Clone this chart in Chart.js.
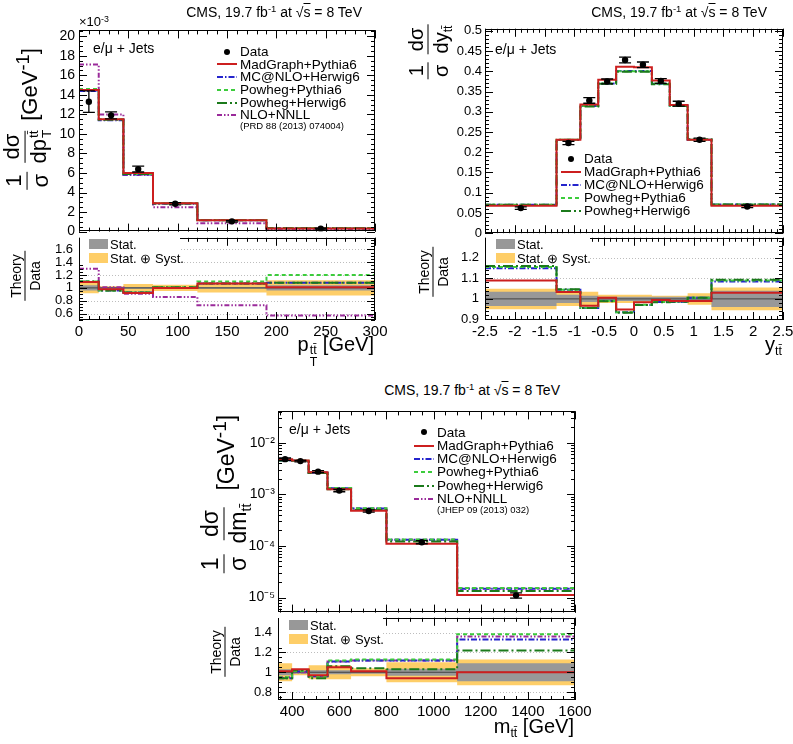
<!DOCTYPE html>
<html>
<head>
<meta charset="utf-8">
<script src="https://cdn.jsdelivr.net/npm/chart.js@4.4.0/dist/chart.umd.min.js"></script>
<style>
  body { margin: 0; background: #fff; width: 793px; height: 744px; position: relative; overflow: hidden;
         font-family: 'Liberation Sans', Arial, Helvetica, sans-serif; color: #000; }
  canvas { position: absolute; }
  .t { position: absolute; white-space: nowrap; z-index: 5; line-height: 1; }
  .t sup { font-size: 0.68em; vertical-align: 0.5em; line-height: 0; }
  .ov { text-decoration: overline; }
  .rot { position: absolute; z-index: 5; white-space: nowrap; display: flex; align-items: center;
         transform: translate(-50%, -50%) rotate(-90deg); line-height: 1; }
  .fr { display: inline-flex; flex-direction: column; align-items: center; margin: 0 4px; }
  .fr .num { border-bottom: 1.6px solid #000; padding: 0 3px 2px; }
  .fr .den { padding-top: 2px; }
  .ss { display: inline-flex; flex-direction: column; font-size: 0.62em; line-height: 0.95; vertical-align: middle; margin-left: 1px; }
  .sub { font-size: 0.62em; position: relative; top: 0.35em; }
  .row { position: absolute; z-index: 5; display: flex; align-items: center; white-space: nowrap; line-height: 1; }
  .box { position: absolute; z-index: 5; }
</style>
</head>
<body>
<script>
// ---------- ttbar pT ----------
const ptEdges = [0, 20, 45, 75, 120, 190, 300];
const ptData = [13.3, 11.9, 6.4, 2.85, 1.05, 0.30];
const ptDataErr = [1.1, 0.35, 0.3, 0.12, 0.08, 0.05];
const ptMadGraph = [14.5, 11.5, 6.0, 2.9, 1.15, 0.33];
const ptMcatnlo = [14.4, 11.4, 5.85, 2.85, 1.15, 0.34];
const ptPowhegPythia = [14.6, 11.5, 5.9, 2.9, 1.18, 0.37];
const ptPowhegHerwig = [14.5, 11.45, 5.9, 2.88, 1.15, 0.34];
const ptNloNnll = [17.1, 12.0, 5.8, 2.5, 0.85, 0.19];
const ptRatioMadGraph = [1.09, 0.98, 0.92, 1.0, 1.07, 1.01];
const ptRatioMcatnlo = [1.09, 0.96, 0.93, 1.0, 1.07, 1.08];
const ptRatioPowhegPythia = [1.10, 0.96, 0.93, 1.01, 1.10, 1.20];
const ptRatioPowhegHerwig = [1.10, 0.96, 0.93, 1.01, 1.07, 1.08];
const ptRatioNloNnll = [1.30, 1.01, 0.91, 0.86, 0.73, 0.57];
const ptStat = [0.04, 0.015, 0.015, 0.01, 0.015, 0.04];
const ptTotal = [0.085, 0.025, 0.06, 0.05, 0.07, 0.12];

// ---------- ttbar rapidity ----------
const yEdges = [-2.5, -1.3, -0.9, -0.6, -0.3, 0, 0.3, 0.6, 0.9, 1.3, 2.5];
const yData = [0.062, 0.223, 0.328, 0.375, 0.428, 0.416, 0.376, 0.320, 0.231, 0.066];
const yDataErr = [0.003, 0.004, 0.007, 0.006, 0.007, 0.007, 0.006, 0.006, 0.004, 0.003];
const yMadGraph = [0.068, 0.231, 0.318, 0.379, 0.411, 0.410, 0.377, 0.317, 0.231, 0.068];
const yMcatnlo = [0.070, 0.230, 0.314, 0.370, 0.401, 0.401, 0.369, 0.315, 0.231, 0.071];
const yPowhegPythia = [0.070, 0.231, 0.314, 0.370, 0.400, 0.400, 0.370, 0.315, 0.231, 0.071];
const yPowhegHerwig = [0.070, 0.231, 0.313, 0.369, 0.399, 0.399, 0.368, 0.314, 0.232, 0.071];
const yRatioMadGraph = [1.09, 1.033, 0.967, 1.005, 0.948, 0.983, 0.995, 0.99, 0.99, 1.03];
const yRatioMcatnlo = [1.15, 1.045, 0.955, 0.99, 0.935, 0.97, 0.985, 0.985, 1.005, 1.085];
const yRatioPowhegPythia = [1.155, 1.045, 0.957, 0.99, 0.935, 0.972, 0.985, 0.987, 1.006, 1.09];
const yRatioPowhegHerwig = [1.16, 1.047, 0.955, 0.988, 0.932, 0.97, 0.984, 0.986, 1.006, 1.093];
const yStat = [0.035, 0.02, 0.015, 0.01, 0.01, 0.01, 0.01, 0.01, 0.012, 0.04];
const yTotal = [0.05, 0.035, 0.035, 0.02, 0.02, 0.02, 0.015, 0.015, 0.028, 0.055];

// ---------- ttbar mass ----------
const mEdges = [340, 400, 470, 550, 650, 800, 1100, 1600];
const mData = [4.8e-3, 4.4e-3, 2.75e-3, 1.18e-3, 4.75e-4, 1.18e-4, 1.1e-5];
const mDataErr = [0.25e-3, 0.15e-3, 0.12e-3, 0.06e-3, 0.25e-4, 0.08e-4, 0.13e-5];
const mMadGraph = [4.8e-3, 4.5e-3, 2.67e-3, 1.25e-3, 4.8e-4, 1.1e-4, 1.12e-5];
const mMcatnlo = [4.5e-3, 4.45e-3, 2.63e-3, 1.31e-3, 5.3e-4, 1.32e-4, 1.47e-5];
const mPowhegPythia = [4.55e-3, 4.45e-3, 2.65e-3, 1.32e-3, 5.35e-4, 1.33e-4, 1.52e-5];
const mPowhegHerwig = [4.5e-3, 4.5e-3, 2.6e-3, 1.25e-3, 4.95e-4, 1.22e-4, 1.34e-5];
const mNloNnll = [4.55e-3, 4.4e-3, 2.65e-3, 1.31e-3, 5.3e-4, 1.32e-4, 1.5e-5];
const mRatioMadGraph = [1.01, 1.03, 0.97, 1.05, 1.01, 0.94, 1.0];
const mRatioMcatnlo = [0.94, 1.01, 0.96, 1.11, 1.12, 1.12, 1.33];
const mRatioPowhegPythia = [0.95, 1.01, 0.96, 1.12, 1.13, 1.13, 1.385];
const mRatioPowhegHerwig = [0.94, 1.02, 0.94, 1.06, 1.04, 1.03, 1.22];
const mRatioNloNnll = [0.95, 1.0, 0.96, 1.11, 1.12, 1.12, 1.36];
const mStat = [0.03, 0.015, 0.02, 0.02, 0.015, 0.035, 0.09];
const mTotal = [0.09, 0.03, 0.07, 0.07, 0.04, 0.1, 0.13];

const STYLES = {
  madgraph: { label: 'MadGraph+Pythia6', color: '#cc1f1f', dash: [], order: 1 },
  mcatnlo:  { label: 'MC@NLO+Herwig6', color: '#2424cc', dash: [6, 2, 1.5, 2], order: 4 },
  powpy:    { label: 'Powheg+Pythia6', color: '#3ccc3c', dash: [4, 3], order: 3 },
  powhw:    { label: 'Powheg+Herwig6', color: '#1b7a1b', dash: [10, 3, 2, 3], order: 2 },
  nnll:     { label: 'NLO+NNLL', color: '#9a2a9a', dash: [5, 2, 1.5, 2, 1.5, 2], order: 5 }
};
const ORANGE = 'rgb(254, 206, 104)';
const GREY = 'rgb(152, 152, 152)';
const FONT = "'Liberation Sans', Arial, sans-serif";

function steps(edges, vals) {
  return edges.map((e, i) => ({ x: e, y: vals[Math.min(i, vals.length - 1)] }));
}
function centers(edges) {
  return edges.slice(0, -1).map((e, i) => (e + edges[i + 1]) / 2);
}
function seq(a, b, s) {
  const out = [];
  for (let v = a; v <= b + s * 1e-6; v += s) out.push(+v.toFixed(6));
  return out;
}
function histDs(key, edges, vals) {
  const s = STYLES[key];
  return { label: s.label, data: steps(edges, vals), stepped: true, borderColor: s.color,
           borderWidth: 2, borderDash: s.dash, pointRadius: 0, fill: false, order: s.order };
}
function bandDs(edges, half, color, order) {
  return [
    { data: steps(edges, half.map(h => 1 - h)), stepped: true, borderWidth: 0, pointRadius: 0, fill: false, order: order },
    { data: steps(edges, half.map(h => 1 + h)), stepped: true, borderWidth: 0, pointRadius: 0, fill: '-1',
      backgroundColor: color, order: order }
  ];
}
function dataDs(edges, vals) {
  const xs = centers(edges);
  return { data: xs.map((x, i) => ({ x: x, y: vals[i] })), showLine: false, pointRadius: 3.2,
           pointBackgroundColor: '#000', pointBorderWidth: 0, order: 0 };
}
function unityDs(lo, hi) {
  return { data: [{ x: lo, y: 1 }, { x: hi, y: 1 }], borderColor: '#444', borderWidth: 1, pointRadius: 0, order: 6 };
}
function fmt(v) { return String(+Number(v).toFixed(4)); }
const SUP = { '-': '\u207b', '0': '\u2070', '1': '\u00b9', '2': '\u00b2', '3': '\u00b3', '4': '\u2074',
              '5': '\u2075', '6': '\u2076', '7': '\u2077', '8': '\u2078', '9': '\u2079' };
function fmtLog(v) {
  const e = Math.log10(v);
  if (Math.abs(e - Math.round(e)) > 1e-6) return '';
  return '10' + String(Math.round(e)).split('').map(c => SUP[c]).join('');
}

// ROOT-like frame with inward ticks on all four sides
const rootFrame = {
  id: 'rootFrame',
  beforeDatasetsDraw(chart, args, o) {
    if (!o || !o.grid) return;
    const { ctx, chartArea: a, scales: { y } } = chart;
    ctx.save();
    ctx.strokeStyle = '#bdbdbd'; ctx.lineWidth = 1; ctx.setLineDash([1, 2]);
    o.yMajor.forEach(v => {
      const p = Math.round(y.getPixelForValue(v)) + 0.5;
      ctx.beginPath(); ctx.moveTo(a.left, p); ctx.lineTo(a.right, p); ctx.stroke();
    });
    ctx.restore();
  },
  afterDatasetsDraw(chart, args, o) {
    if (!o || !o.xMajor) return;
    const { ctx, chartArea: a, scales: { x, y } } = chart;
    ctx.save();
    ctx.strokeStyle = '#000'; ctx.lineWidth = 1; ctx.setLineDash([]);
    ctx.beginPath();
    const xt = (list, len) => list.forEach(v => {
      const p = Math.round(x.getPixelForValue(v)) + 0.5;
      ctx.moveTo(p, a.bottom); ctx.lineTo(p, a.bottom - len);
      ctx.moveTo(p, a.top); ctx.lineTo(p, a.top + len);
    });
    const yt = (list, len) => list.forEach(v => {
      const p = Math.round(y.getPixelForValue(v)) + 0.5;
      ctx.moveTo(a.left, p); ctx.lineTo(a.left + len, p);
      ctx.moveTo(a.right, p); ctx.lineTo(a.right - len, p);
    });
    xt(o.xMajor, 8); xt(o.xMinor, 4);
    yt(o.yMajor, 8); yt(o.yMinor, 4);
    ctx.stroke();
    ctx.strokeRect(Math.round(a.left) + 0.5, Math.round(a.top) + 0.5, Math.round(a.width) - 1, Math.round(a.height) - 1);
    ctx.restore();
  }
};

const errBars = {
  id: 'errBars',
  afterDatasetsDraw(chart, args, o) {
    if (!o || !o.ys) return;
    const { ctx, scales: { x, y } } = chart;
    const xs = centers(o.edges);
    ctx.save();
    ctx.strokeStyle = '#000'; ctx.lineWidth = 1.3;
    xs.forEach((xv, i) => {
      const px = x.getPixelForValue(xv);
      const lo = y.getPixelForValue(o.ys[i] - o.err[i]);
      const hi = y.getPixelForValue(o.ys[i] + o.err[i]);
      ctx.beginPath();
      ctx.moveTo(px, lo); ctx.lineTo(px, hi);
      ctx.moveTo(px - 6, lo); ctx.lineTo(px + 6, lo);
      ctx.moveTo(px - 6, hi); ctx.lineTo(px + 6, hi);
      ctx.stroke();
    });
    ctx.restore();
  }
};

function makeChart(frame, cfg) {
  const ML = 60, MT = 10, MR = 24;
  const MB = cfg.showX ? 40 : 0;
  const PB = cfg.showX ? 0 : 10;
  const W = frame.r - frame.l + ML + MR;
  const H = frame.b - frame.t + MT + MB + PB;
  const cv = document.createElement('canvas');
  cv.width = W; cv.height = H;
  cv.style.left = (frame.l - ML) + 'px';
  cv.style.top = (frame.t - MT) + 'px';
  cv.style.width = W + 'px'; cv.style.height = H + 'px';
  document.body.appendChild(cv);
  return new Chart(cv.getContext('2d'), {
    type: 'line',
    data: { datasets: cfg.datasets },
    options: {
      responsive: false, animation: false, devicePixelRatio: 1,
      layout: { padding: { left: 0, top: MT, right: MR, bottom: PB } },
      elements: { line: { tension: 0 } },
      plugins: { legend: { display: false }, tooltip: { enabled: false },
                 rootFrame: cfg.ticks, errBars: cfg.err || {} },
      scales: {
        x: {
          type: 'linear', min: cfg.xr[0], max: cfg.xr[1],
          afterFit: s => { s.height = MB; },
          grid: { display: false, drawTicks: false }, border: { display: false },
          ticks: { display: !!cfg.showX, stepSize: cfg.xStep, includeBounds: false, autoSkip: false,
                   maxRotation: 0, maxTicksLimit: 40, padding: 3, color: '#000',
                   font: { family: FONT, size: 15 }, callback: fmt }
        },
        y: {
          type: cfg.log ? 'logarithmic' : 'linear', min: cfg.yr[0], max: cfg.yr[1],
          afterFit: s => { s.width = ML; },
          grid: { display: false, drawTicks: false }, border: { display: false },
          ticks: { stepSize: cfg.yStep, includeBounds: false, autoSkip: false, maxTicksLimit: 40,
                   padding: cfg.yPad || 4, color: '#000', font: { family: FONT, size: cfg.yFont || 14 },
                   callback: cfg.log ? fmtLog : fmt }
        }
      }
    },
    plugins: [rootFrame, errBars]
  });
}

function logMinors(lo, hi) {
  const out = [];
  for (let e = -7; e <= 0; e++) for (let k = 1; k <= 9; k++) {
    const v = k * Math.pow(10, e);
    if (v >= lo && v <= hi) out.push(v);
  }
  return out;
}

// ---------------- pT panel ----------------
const ptFrameMain = { l: 79, r: 375, t: 28, b: 234 };
const ptFrameRatio = { l: 79, r: 375, t: 234, b: 320 };
makeChart(ptFrameMain, {
  xr: [0, 300], yr: [0, 20.6], yStep: 2,
  ticks: { xMajor: seq(0, 300, 50), xMinor: seq(0, 300, 10), yMajor: seq(0, 20, 2), yMinor: seq(0, 20.5, 0.5) },
  err: { edges: ptEdges, ys: ptData, err: ptDataErr },
  datasets: [dataDs(ptEdges, ptData), histDs('madgraph', ptEdges, ptMadGraph), histDs('mcatnlo', ptEdges, ptMcatnlo),
             histDs('powpy', ptEdges, ptPowhegPythia), histDs('powhw', ptEdges, ptPowhegHerwig),
             histDs('nnll', ptEdges, ptNloNnll)]
});
makeChart(ptFrameRatio, {
  showX: true, xr: [0, 300], xStep: 50, yr: [0.5, 1.78], yStep: 0.2, yFont: 13, yPad: 6,
  ticks: { grid: true, xMajor: seq(0, 300, 50), xMinor: seq(0, 300, 10), yMajor: seq(0.6, 1.6, 0.2), yMinor: seq(0.5, 1.75, 0.05) },
  datasets: [...bandDs(ptEdges, ptTotal, ORANGE, 8), ...bandDs(ptEdges, ptStat, GREY, 7), unityDs(0, 300),
             histDs('madgraph', ptEdges, ptRatioMadGraph), histDs('mcatnlo', ptEdges, ptRatioMcatnlo),
             histDs('powpy', ptEdges, ptRatioPowhegPythia), histDs('powhw', ptEdges, ptRatioPowhegHerwig),
             histDs('nnll', ptEdges, ptRatioNloNnll)]
});

// ---------------- rapidity panel ----------------
const yFrameMain = { l: 485, r: 783, t: 28, b: 234 };
const yFrameRatio = { l: 485, r: 783, t: 234, b: 320 };
makeChart(yFrameMain, {
  xr: [-2.5, 2.5], yr: [0, 0.505], yStep: 0.05, yFont: 13, yPad: 3,
  ticks: { xMajor: seq(-2.5, 2.5, 0.5), xMinor: seq(-2.5, 2.5, 0.1), yMajor: seq(0, 0.5, 0.05), yMinor: seq(0, 0.5, 0.01) },
  err: { edges: yEdges, ys: yData, err: yDataErr },
  datasets: [dataDs(yEdges, yData), histDs('madgraph', yEdges, yMadGraph), histDs('mcatnlo', yEdges, yMcatnlo),
             histDs('powpy', yEdges, yPowhegPythia), histDs('powhw', yEdges, yPowhegHerwig)]
});
makeChart(yFrameRatio, {
  showX: true, xr: [-2.5, 2.5], xStep: 0.5, yr: [0.897, 1.298], yStep: 0.1, yFont: 13, yPad: 6,
  ticks: { grid: true, xMajor: seq(-2.5, 2.5, 0.5), xMinor: seq(-2.5, 2.5, 0.1), yMajor: seq(0.9, 1.2, 0.1), yMinor: seq(0.9, 1.28, 0.02) },
  datasets: [...bandDs(yEdges, yTotal, ORANGE, 8), ...bandDs(yEdges, yStat, GREY, 7), unityDs(-2.5, 2.5),
             histDs('madgraph', yEdges, yRatioMadGraph), histDs('mcatnlo', yEdges, yRatioMcatnlo),
             histDs('powpy', yEdges, yRatioPowhegPythia), histDs('powhw', yEdges, yRatioPowhegHerwig)]
});

// ---------------- mass panel ----------------
const mFrameMain = { l: 278, r: 575, t: 410, b: 614 };
const mFrameRatio = { l: 278, r: 575, t: 614, b: 700 };
makeChart(mFrameMain, {
  log: true, xr: [340, 1600], yr: [5.1e-6, 0.0404], yFont: 14, yPad: 3,
  ticks: { xMajor: seq(400, 1600, 200), xMinor: seq(350, 1600, 50), yMajor: [1e-5, 1e-4, 1e-3, 1e-2], yMinor: logMinors(5.1e-6, 0.0404) },
  err: { edges: mEdges, ys: mData, err: mDataErr },
  datasets: [dataDs(mEdges, mData), histDs('madgraph', mEdges, mMadGraph), histDs('mcatnlo', mEdges, mMcatnlo),
             histDs('powpy', mEdges, mPowhegPythia), histDs('powhw', mEdges, mPowhegHerwig),
             histDs('nnll', mEdges, mNloNnll)]
});
makeChart(mFrameRatio, {
  showX: true, xr: [340, 1600], xStep: 200, yr: [0.72, 1.55], yStep: 0.2, yFont: 13, yPad: 6,
  ticks: { grid: true, xMajor: seq(400, 1600, 200), xMinor: seq(350, 1600, 50), yMajor: seq(0.8, 1.4, 0.2), yMinor: seq(0.75, 1.55, 0.05) },
  datasets: [...bandDs(mEdges, mTotal, ORANGE, 8), ...bandDs(mEdges, mStat, GREY, 7), unityDs(340, 1600),
             histDs('madgraph', mEdges, mRatioMadGraph), histDs('mcatnlo', mEdges, mRatioMcatnlo),
             histDs('powpy', mEdges, mRatioPowhegPythia), histDs('powhw', mEdges, mRatioPowhegHerwig),
             histDs('nnll', mEdges, mRatioNloNnll)]
});

// ---------------- text, titles, legends ----------------
function addHtml(html) {
  const d = document.createElement('div');
  d.innerHTML = html;
  while (d.firstChild) document.body.appendChild(d.firstChild);
}
function sample(key) {
  if (key === 'data') return '<svg width="20" height="8"><circle cx="10" cy="4" r="3" fill="#000"/></svg>';
  const s = STYLES[key];
  return '<svg width="20" height="8"><line x1="0" y1="4" x2="20" y2="4" stroke="' + s.color +
         '" stroke-width="2" stroke-dasharray="' + (s.dash.length ? s.dash.join(',') : 'none') + '"/></svg>';
}
function legend(x, y0, dy, keys, note) {
  let html = '';
  keys.forEach((k, i) => {
    const lab = k === 'data' ? 'Data' : STYLES[k].label;
    html += '<div class="row" style="left:' + x + 'px;top:' + (y0 + i * dy - 8) + 'px;height:16px;font-size:13.5px">' +
            sample(k) + '<span style="margin-left:3px">' + lab + '</span></div>';
  });
  if (note) html += '<div class="t" style="left:' + (x + 23) + 'px;top:' + (y0 + keys.length * dy - 7) + 'px;font-size:9.5px">' + note + '</div>';
  addHtml(html);
}
function ratioLegend(fx, x, y0, w) {
  const cover = '<div class="box" style="left:' + (fx + 1) + 'px;top:' + (y0 - 4) + 'px;width:' + w +
                'px;height:29px;background:#fff;z-index:4"></div>';
  addHtml(cover +
          '<div class="box" style="left:' + x + 'px;top:' + y0 + 'px;width:19px;height:10px;background:' + GREY + '"></div>' +
          '<div class="t" style="left:' + (x + 21) + 'px;top:' + (y0 - 1) + 'px;font-size:13px">Stat.</div>' +
          '<div class="box" style="left:' + x + 'px;top:' + (y0 + 14) + 'px;width:19px;height:10px;background:' + ORANGE + '"></div>' +
          '<div class="t" style="left:' + (x + 21) + 'px;top:' + (y0 + 13) + 'px;font-size:13px">Stat. \u2295 Syst.</div>');
}
function cmsLabel(right, top) {
  addHtml('<div class="t" style="right:' + (793 - right) + 'px;top:' + top + 'px;font-size:14px">CMS, 19.7 fb<sup>-1</sup> at \u221a<span class="ov">s</span> = 8 TeV</div>');
}
function theoryData(cx, cy) {
  addHtml('<div class="rot" style="left:' + cx + 'px;top:' + cy + 'px;font-size:14px"><span class="fr"><span class="num">Theory</span><span class="den">Data</span></span></div>');
}
const TT = 't\u0074\u0304';

// pT texts
cmsLabel(362, 5);
addHtml('<div class="t" style="left:79px;top:15px;font-size:13px">\u00d710<sup>-3</sup></div>');
addHtml('<div class="t" style="left:93px;top:41px;font-size:14px">e/\u03bc + Jets</div>');
addHtml('<div class="rot" style="left:27px;top:121px;font-size:22px"><span class="fr"><span class="num">1</span><span class="den">\u03c3</span></span>' +
        '<span class="fr"><span class="num">d\u03c3</span><span class="den">dp<span class="ss"><span>' + TT + '</span><span>T</span></span></span></span>' +
        '<span style="margin-left:5px">[GeV<sup>-1</sup>]</span></div>');
theoryData(25, 276);
addHtml('<div class="t" style="right:' + (793 - 374) + 'px;top:334px;font-size:20px">p<span class="ss" style="vertical-align:-0.25em"><span>' + TT + '</span><span>T</span></span> [GeV]</div>');
legend(217, 51.7, 12.7, ['data', 'madgraph', 'mcatnlo', 'powpy', 'powhw', 'nnll'], '(PRD 88 (2013) 074004)');
ratioLegend(79, 89, 239, 100);

// rapidity texts
cmsLabel(767, 5);
addHtml('<div class="t" style="left:495px;top:42px;font-size:14px">e/\u03bc + Jets</div>');
addHtml('<div class="rot" style="left:428px;top:52px;font-size:20px"><span class="fr"><span class="num">1</span><span class="den">\u03c3</span></span>' +
        '<span class="fr"><span class="num">d\u03c3</span><span class="den">dy<span class="sub">' + TT + '</span></span></span></div>');
theoryData(433, 272);
addHtml('<div class="t" style="right:' + (793 - 782) + 'px;top:334px;font-size:20px">y<span class="sub">' + TT + '</span></div>');
legend(561, 159, 13, ['data', 'madgraph', 'mcatnlo', 'powpy', 'powhw']);
ratioLegend(485, 496, 239, 104);

// mass texts
cmsLabel(560, 383);
addHtml('<div class="t" style="left:289px;top:422px;font-size:14px">e/\u03bc + Jets</div>');
addHtml('<div class="rot" style="left:224px;top:496px;font-size:23px"><span class="fr"><span class="num">1</span><span class="den">\u03c3</span></span>' +
        '<span class="fr" style="margin:0 7px"><span class="num">d\u03c3</span><span class="den">dm<span class="sub">' + TT + '</span></span></span>' +
        '<span style="margin-left:6px">[GeV<sup>-1</sup>]</span></div>');
theoryData(225, 652);
addHtml('<div class="t" style="right:' + (793 - 574) + 'px;top:716px;font-size:20px">m<span class="sub">' + TT + '</span> [GeV]</div>');
legend(414, 432.3, 13.3, ['data', 'madgraph', 'mcatnlo', 'powpy', 'powhw', 'nnll'], '(JHEP 09 (2013) 032)');
ratioLegend(278, 289, 620, 104);
</script>
</body>
</html>
